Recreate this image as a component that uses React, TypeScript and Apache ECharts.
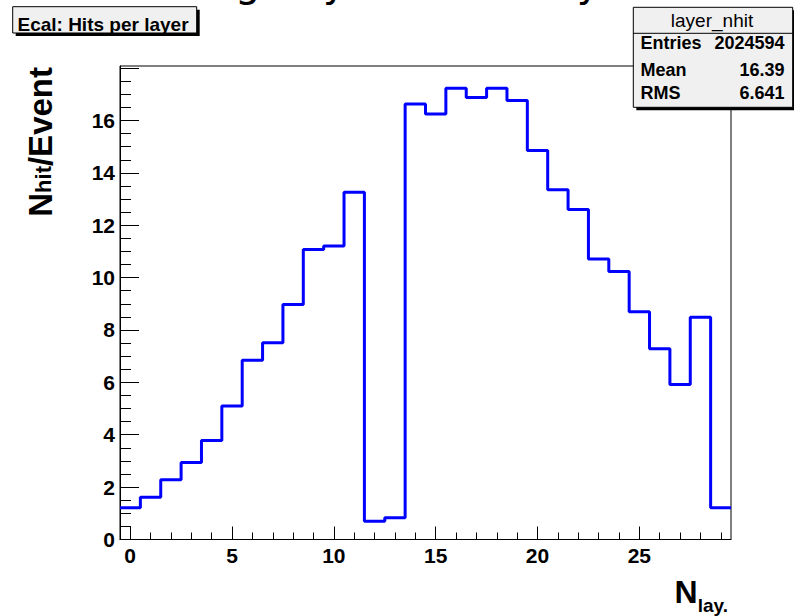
import React, { useEffect, useRef } from "react";
import * as echarts from "echarts";

// ---- data ----
const layers = [0, 1, 2, 3, 4, 5, 6, 7, 8, 9, 10, 11, 12, 13, 14, 15, 16, 17, 18, 19, 20, 21, 22, 23, 24, 25, 26, 27, 28, 29];
const hitsPerEvent = [
  1.21, 1.61, 2.28, 2.94, 3.78, 5.1, 6.84, 7.51, 8.97, 11.07,
  11.21, 13.26, 0.7, 0.83, 16.63, 16.25, 17.23, 16.88, 17.23, 16.76,
  14.85, 13.35, 12.6, 10.71, 10.23, 8.7, 7.28, 5.92, 8.49, 1.21,
];
const xMajorTicks = [0, 5, 10, 15, 20, 25];
const xMinorTicks = [1, 2, 3, 4, 6, 7, 8, 9, 11, 12, 13, 14, 16, 17, 18, 19, 21, 22, 23, 24, 26, 27, 28, 29];
const yLabelValues = [0, 2, 4, 6, 8, 10, 12, 14, 16];
const yMajorTicks = [0, 2, 4, 6, 8, 10, 12, 14, 16, 18];
const yMinorTicks = [0.5, 1, 1.5, 2.5, 3, 3.5, 4.5, 5, 5.5, 6.5, 7, 7.5, 8.5, 9, 9.5, 10.5, 11, 11.5, 12.5, 13, 13.5, 14.5, 15, 15.5, 16.5, 17, 17.5];
const statsName = "layer_nhit";
const statsLabels = ["Entries", "Mean", "RMS"];
const statsValues = ["2024594", "16.39", "6.641"];
const histTitle = "Ecal: Hits per layer";
const pageTitle = "Average by detector layer";

const FONT = "'Liberation Sans', Arial, Helvetica, sans-serif";

function buildOption(): any {
  // step outline through the bin edges
  const edgePoints: number[][] = layers.map((l, i) => [l - 0.5, hitsPerEvent[i]]);
  edgePoints.push([layers[layers.length - 1] + 0.5, hitsPerEvent[hitsPerEvent.length - 1]]);

  const axisBase = {
    splitLine: { show: false },
    axisPointer: { show: false },
  };

  const statsRowsY = [43, 69.5, 93];
  const statsGraphics: any[] = [];
  statsLabels.forEach((lab, i) => {
    statsGraphics.push({
      type: "text", z: 102, x: 640.5, y: statsRowsY[i],
      style: { text: lab, textAlign: "left", textVerticalAlign: "middle", fontSize: 18, fontWeight: "bold", fontFamily: FONT, fill: "#000" },
    });
    statsGraphics.push({
      type: "text", z: 102, x: 784.5, y: statsRowsY[i],
      style: { text: statsValues[i], textAlign: "right", textVerticalAlign: "middle", fontSize: 18, fontWeight: "bold", fontFamily: FONT, fill: "#000" },
    });
  });

  return {
    animation: false,
    backgroundColor: "#ffffff",
    grid: {
      left: 120, top: 66, width: 611, height: 473.5,
      show: true, borderColor: "#000", borderWidth: 1, backgroundColor: "#ffffff",
    },
    xAxis: [
      {
        ...axisBase, type: "value", min: -0.5, max: 29.5, position: "bottom",
        axisLine: { show: true, onZero: false, lineStyle: { color: "#000", width: 1 } },
        axisTick: { show: true, inside: true, length: 13, customValues: xMajorTicks, lineStyle: { color: "#000", width: 1 } },
        axisLabel: { show: true, customValues: xMajorTicks, margin: 5, fontSize: 21, fontWeight: "bold", fontFamily: FONT, color: "#000" },
      },
      {
        ...axisBase, type: "value", min: -0.5, max: 29.5, position: "bottom",
        axisLine: { show: false, onZero: false },
        axisTick: { show: true, inside: true, length: 7, customValues: xMinorTicks, lineStyle: { color: "#000", width: 1 } },
        axisLabel: { show: false },
      },
    ],
    yAxis: [
      {
        ...axisBase, type: "value", min: 0, max: 18.08, position: "left",
        axisLine: { show: true, onZero: false, lineStyle: { color: "#000", width: 1 } },
        axisTick: { show: true, inside: true, length: 19, customValues: yMajorTicks, lineStyle: { color: "#000", width: 1 } },
        axisLabel: { show: true, customValues: yLabelValues, margin: 5, fontSize: 21, fontWeight: "bold", fontFamily: FONT, color: "#000" },
      },
      {
        ...axisBase, type: "value", min: 0, max: 18.08, position: "left",
        axisLine: { show: false, onZero: false },
        axisTick: { show: true, inside: true, length: 11, customValues: yMinorTicks, lineStyle: { color: "#000", width: 1 } },
        axisLabel: { show: false },
      },
    ],
    series: [
      {
        type: "line", xAxisIndex: 0, yAxisIndex: 0, step: "end",
        data: edgePoints, symbol: "none", showSymbol: false, clip: false,
        lineStyle: { color: "#0000ff", width: 3 }, z: 5,
      },
    ],
    graphic: [
      // cut-off canvas title at very top (only descenders show in the reference)
      {
        type: "text", z: 50, x: 120.7, y: -18.5,
        style: { text: pageTitle, textAlign: "left", textVerticalAlign: "middle", fontSize: 40, fontFamily: "'DejaVu Sans', sans-serif", fill: "#000" },
      },
      // histogram title box
      { type: "rect", z: 100, shape: { x: 15.7, y: 9.7, width: 184, height: 26.3 }, style: { fill: "#000" } },
      { type: "rect", z: 101, shape: { x: 12.7, y: 6.7, width: 184, height: 26.3 }, style: { fill: "#f0f0f0", stroke: "#000", lineWidth: 1 } },
      {
        type: "text", z: 102, x: 103, y: 24,
        style: { text: histTitle, textAlign: "center", textVerticalAlign: "middle", fontSize: 19, fontWeight: "bold", fontFamily: FONT, fill: "#000" },
      },
      // stats box
      { type: "rect", z: 100, shape: { x: 636.3, y: 10.3, width: 159.4, height: 100 }, style: { fill: "#000" } },
      { type: "rect", z: 101, shape: { x: 633.3, y: 7.3, width: 159.4, height: 100 }, style: { fill: "#f0f0f0", stroke: "#000", lineWidth: 1 } },
      { type: "line", z: 102, shape: { x1: 633.3, y1: 33.3, x2: 792.7, y2: 33.3 }, style: { stroke: "#000", lineWidth: 1 } },
      {
        type: "text", z: 102, x: 712, y: 20,
        style: { text: statsName, textAlign: "center", textVerticalAlign: "middle", fontSize: 19, fontFamily: FONT, fill: "#000" },
      },
      ...statsGraphics,
      // y axis title
      {
        type: "text", z: 60, x: 40, y: 67, rotation: Math.PI / 2,
        style: {
          text: "{b|N}{s|hit}{b|/Event}", textAlign: "right", textVerticalAlign: "middle",
          rich: {
            b: { fontSize: 33, fontWeight: "bold", fontFamily: FONT, fill: "#000", verticalAlign: "middle" },
            s: { fontSize: 22, fontWeight: "bold", fontFamily: FONT, fill: "#000", verticalAlign: "middle", padding: [6, 0, 0, 0] },
          },
        },
      },
      // x axis title
      {
        type: "text", z: 60, x: 728, y: 592,
        style: {
          text: "{b|N}{s|lay.}", textAlign: "right", textVerticalAlign: "middle",
          rich: {
            b: { fontSize: 32, fontWeight: "bold", fontFamily: FONT, fill: "#000", verticalAlign: "middle" },
            s: { fontSize: 19, fontWeight: "bold", fontFamily: FONT, fill: "#000", verticalAlign: "middle", padding: [26, 0, 0, 0] },
          },
        },
      },
    ],
  };
}

export default function App() {
  const ref = useRef<HTMLDivElement>(null);
  useEffect(() => {
    if (!ref.current) return;
    const chart = echarts.init(ref.current, undefined, { renderer: "svg", width: 794, height: 616 });
    chart.setOption(buildOption());
    return () => chart.dispose();
  }, []);
  return (
    <div
      ref={ref}
      style={{ position: "absolute", left: 0, top: 0, width: 794, height: 616, background: "#fff", overflow: "hidden" }}
    />
  );
}
